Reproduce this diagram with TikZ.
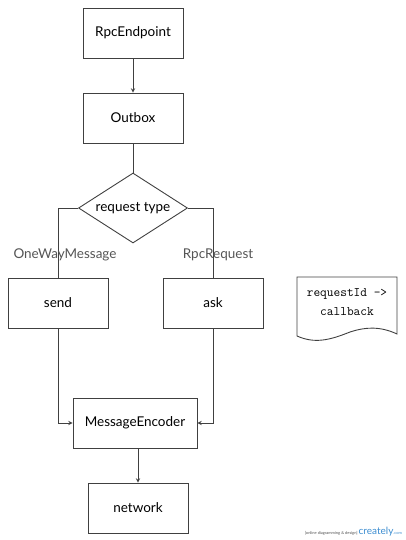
\documentclass[tikz,border=0pt]{standalone}
\usepackage{fontspec}
\setmainfont{Lato}
\usepackage{xcolor}
\usetikzlibrary{shapes.geometric}
\definecolor{LineGray}{HTML}{404040}
\definecolor{LabelGray}{HTML}{555555}
\definecolor{MarkBlue}{HTML}{3C8DD0}

\begin{document}
\begin{tikzpicture}[x=1pt, y=-1pt,
		box/.style={rectangle, draw=LineGray, line width=0.9pt, minimum width=100pt, minimum height=50pt, font=\fontsize{13.5}{16}\selectfont},
		choice/.style={diamond, draw=LineGray, line width=0.9pt, inner sep=0pt, minimum width=109pt, minimum height=70pt, font=\fontsize{13.5}{16}\selectfont},
		lbl/.style={text=LabelGray, font=\fontsize{13.5}{16}\selectfont}]
		\useasboundingbox (0,0) rectangle (405,540);
		% Boxes of the flow
		\node[box] (ep) at (133,33) {RpcEndpoint};
		\node[box] (outbox) at (133,118) {Outbox};
		\node[choice, label={[font=\fontsize{13.5}{16}\selectfont]center:request type}] (type) at (133,208) {};
		\node[box] (send) at (58,303) {send};
		\node[box] (ask) at (213,303) {ask};
		\node[box, minimum width=124pt] (enc) at (135,423) {MessageEncoder};
		\node[box] (net) at (138,508) {network};
		
		% Callback note
		\draw[draw=LineGray, line width=0.9pt] (297,277) -- (397,277) -- (397,334) .. controls (380,326) and (365,327) .. (350,332) .. controls (330,340) and (315,344) .. (297,336) -- cycle;
		\node[font=\ttfamily\fontsize{13}{19}\selectfont, align=center] (cbmap) at (347,302) {requestId ->\\callback};
		
		\draw[->, >=stealth, color=LineGray, line width=0.9pt] (ep) -- (outbox);
		\draw[color=LineGray, line width=0.9pt] (outbox) -- (type);
		\draw[color=LineGray, line width=0.9pt] (type.west) -| (send.north) node[lbl, pos=0.84, xshift=7pt] {OneWayMessage};
		\draw[color=LineGray, line width=0.9pt] (type.east) -| (ask.north) node[lbl, pos=0.84, xshift=5pt] {RpcRequest};
		\draw[->, >=stealth, color=LineGray, line width=0.9pt] (send.south) |- (enc.west);
		\draw[->, >=stealth, color=LineGray, line width=0.9pt] (ask.south) |- (enc.east);
		\draw[->, >=stealth, color=LineGray, line width=0.9pt] (net.north |- enc.south) -- (net.north);
		
		\node[anchor=east, inner sep=0pt] (mark) at (402,532) {\fontsize{4}{5}\selectfont\textcolor{LabelGray}{[online diagramming \& design]} \fontsize{10}{11}\selectfont\textcolor{MarkBlue}{creately}\fontsize{4}{5}\selectfont\textcolor{MarkBlue}{.com}};
	\end{tikzpicture}
\end{document}
